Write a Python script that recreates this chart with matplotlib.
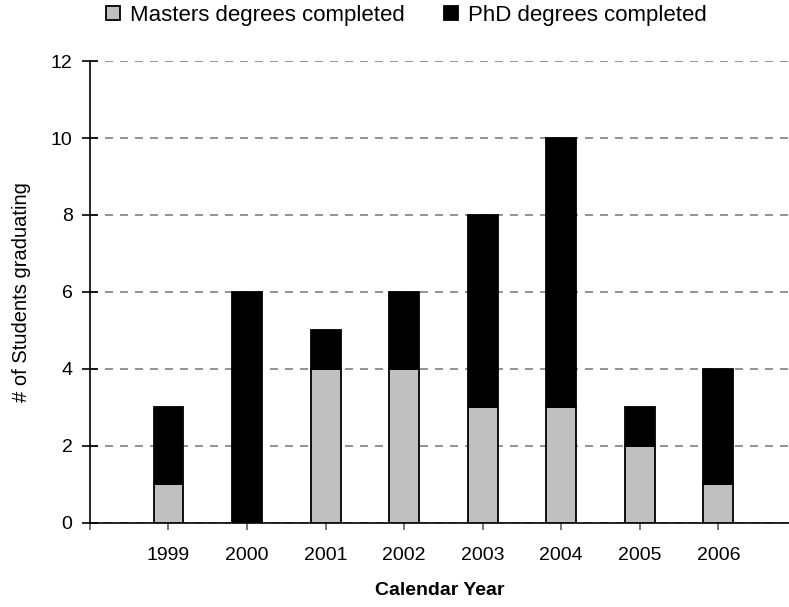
import numpy as np
import matplotlib.pyplot as plt

plt.rcParams['font.family'] = ['Liberation Sans', 'DejaVu Sans']

years = ['1999', '2000', '2001', '2002', '2003', '2004', '2005', '2006']
masters = [1, 0, 4, 4, 3, 3, 2, 1]
phd = [2, 6, 1, 2, 5, 7, 1, 3]

x = np.arange(1, len(years) + 1)

fig = plt.figure(figsize=(7.89, 6.07), dpi=100)
ax = fig.add_axes([0.114, 0.1384, 0.886, 0.7611])

ax.bar(x, masters, width=0.38, color='#C0C0C0', edgecolor='black',
       linewidth=1.3, label='Masters degrees completed', zorder=3)
ax.bar(x, phd, width=0.38, bottom=masters, color='black', edgecolor='black',
       linewidth=1.3, label='PhD degrees completed', zorder=3)

ax.set_xlim(0, 8.9)
ax.set_ylim(0, 12)
ax.set_yticks(np.arange(0, 13, 2))
ax.set_xticks(np.arange(0, len(years) + 1))
ax.set_xticklabels([''] + years)

ax.yaxis.grid(True, color='#808080', linestyle=(0, (4.8, 4.2)), linewidth=1.2)
ax.set_axisbelow(True)

for s in ['top', 'right']:
    ax.spines[s].set_visible(False)
ax.spines['left'].set_linewidth(1.2)
ax.spines['bottom'].set_linewidth(1.2)

ax.tick_params(axis='y', direction='inout', length=11, width=1.2,
               labelsize=14, pad=7)
ax.tick_params(axis='x', direction='out', length=5, width=1.2,
               color='#606060', labelsize=14, pad=12)

ax.set_xlabel('Calendar Year', fontsize=14, fontweight='bold', labelpad=13)
ax.set_ylabel('# of Students graduating', fontsize=14.5, labelpad=14)

fig.legend(loc='center', bbox_to_anchor=(0.515, 0.975), ncol=2, frameon=False,
           fontsize=16, handlelength=0.6, handleheight=0.6, handletextpad=0.45,
           columnspacing=1.8, borderpad=0, borderaxespad=0)

fig.savefig('out.png', dpi=100)
